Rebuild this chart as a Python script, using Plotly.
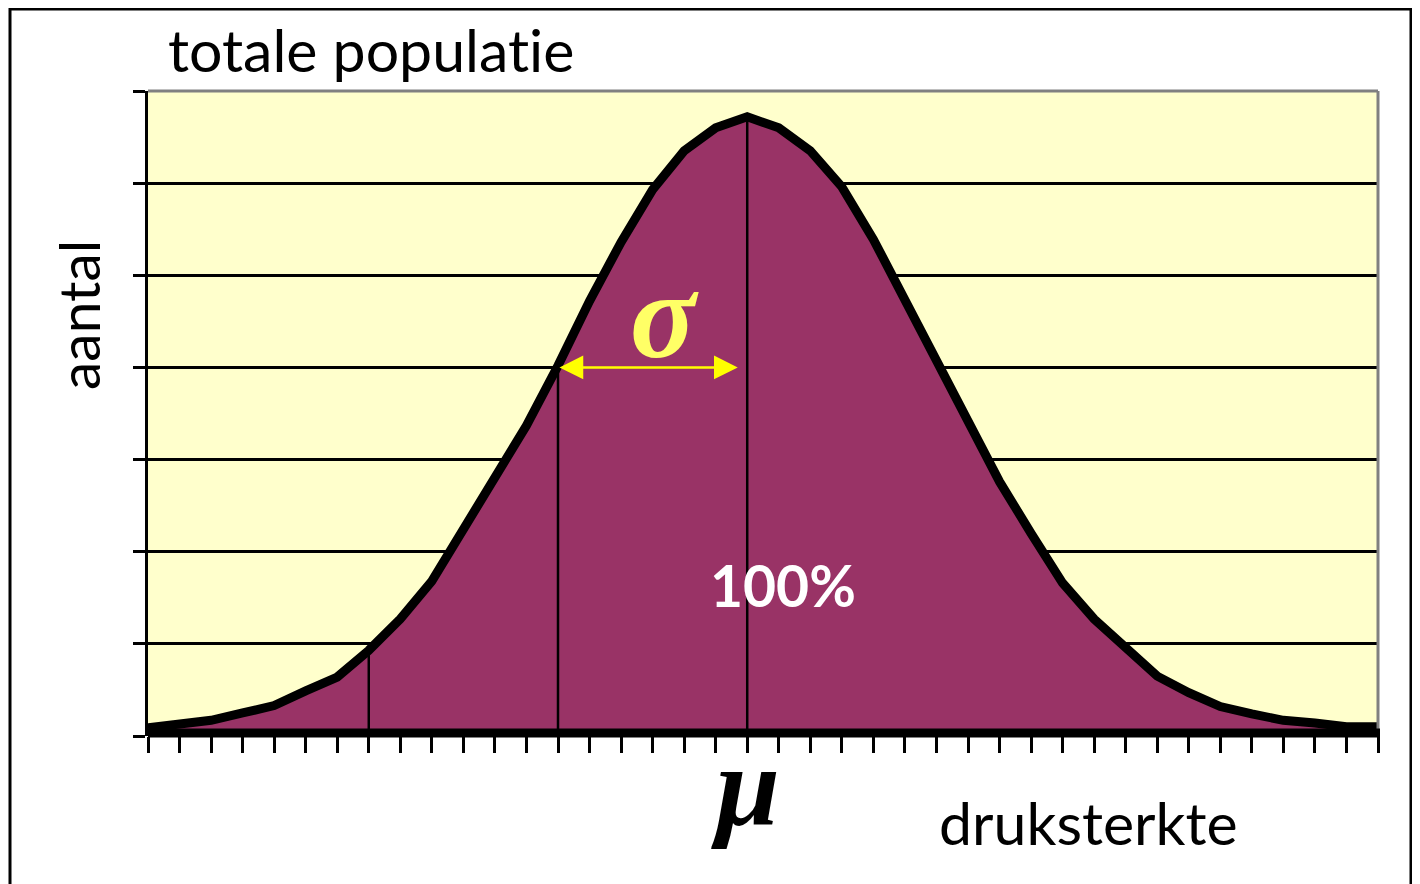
import plotly.graph_objects as go

# ---- data ----
categories = list(range(40))
aantal = [0.09, 0.13, 0.17, 0.25, 0.33, 0.49, 0.64, 0.93, 1.27, 1.68,
          2.24, 2.79, 3.37, 4.02, 4.72, 5.36, 5.93, 6.35, 6.60, 6.72,
          6.60, 6.35, 5.96, 5.39, 4.74, 4.08, 3.42, 2.76, 2.20, 1.66,
          1.27, 0.96, 0.65, 0.47, 0.32, 0.24, 0.17, 0.14, 0.10, 0.10]
drop_categories = [7, 13, 19]   # mu - 2 sigma, mu - sigma, mu
sigma_start = 13
sigma_end = 18.7
sigma_level = 4.0
y_ticks = [0, 1, 2, 3, 4, 5, 6, 7]

# page is rendered with an 8px body margin
OFF = 8
W, H = 1420 - OFF, 884 - OFF
L, R, T, B = 148, 1378, 91, 736   # plot area in page pixels


def px(x):
    return (x - L) / (R - L)


def py(y):
    return (B - y) / (B - T)


fig = go.Figure()

fig.add_trace(go.Scatter(
    x=categories, y=aantal, mode="lines", fill="tozeroy",
    fillcolor="#993366", line=dict(color="black", width=0),
    hoverinfo="skip", showlegend=False))

dx, dy = [], []
for c in drop_categories:
    dx += [c, c, None]
    dy += [0, aantal[categories.index(c)], None]
fig.add_trace(go.Scatter(x=dx, y=dy, mode="lines",
                         line=dict(color="black", width=2.5),
                         hoverinfo="skip", showlegend=False))

fig.add_trace(go.Scatter(
    x=categories, y=aantal, mode="lines",
    line=dict(color="black", width=9, shape="linear"),
    hoverinfo="skip", showlegend=False))

font_main = "Lato, 'Open Sans', sans-serif"
font_greek = "'Liberation Serif', 'DejaVu Serif', serif"

fig.update_layout(
    width=W, height=H,
    margin=dict(l=L - OFF, r=1420 - R, t=T - OFF, b=884 - B, pad=0),
    paper_bgcolor="white", plot_bgcolor="#FFFFCC",
    showlegend=False,
    xaxis=dict(range=[0, 39], tickmode="linear", tick0=0, dtick=1,
               ticks="outside", ticklen=16, tickwidth=2.5, tickcolor="black",
               showticklabels=False, showgrid=False, zeroline=False,
               showline=False, fixedrange=True),
    yaxis=dict(range=[0, 7], tickmode="array", tickvals=y_ticks,
               ticks="outside", ticklen=12, tickwidth=2.5, tickcolor="black",
               showticklabels=False, showgrid=True, gridcolor="black",
               gridwidth=2.5, zeroline=False,
               showline=True, linecolor="black", linewidth=2.5, fixedrange=True),
)

shapes = [
    dict(type="line", xref="paper", yref="paper", x0=0, x1=1, y0=1, y1=1,
         line=dict(color="#808080", width=3), layer="above"),
    dict(type="line", xref="paper", yref="paper", x0=1, x1=1, y0=0, y1=1,
         line=dict(color="#808080", width=3), layer="above"),
    # thick category axis line
    dict(type="line", xref="paper", yref="paper", x0=0, x1=px(1380),
         y0=py(733), y1=py(733),
         line=dict(color="black", width=9), layer="above"),
    dict(type="rect", xref="paper", yref="paper",
         x0=px(10), x1=px(1411), y0=py(905), y1=py(9),
         line=dict(color="black", width=3), fillcolor="rgba(0,0,0,0)"),
]
fig.update_layout(shapes=shapes)

ann = [
    dict(text="totale populat\u200cie", xref="paper", yref="paper",
         x=px(166), y=py(50), xanchor="left", yanchor="middle",
         showarrow=False, font=dict(family=font_main, size=59, color="black")),
    dict(text="aantal", xref="paper", yref="paper", textangle=-90,
         x=px(78), y=py(315), xanchor="center", yanchor="middle",
         showarrow=False, font=dict(family=font_main, size=57, color="black")),
    dict(text="druksterkte", xref="paper", yref="paper",
         x=px(937), y=py(822), xanchor="left", yanchor="middle",
         showarrow=False, font=dict(family=font_main, size=59, color="black")),
    dict(text="<b>100%</b>", xref="paper", yref="paper",
         x=px(783), y=py(585), xanchor="center", yanchor="middle",
         showarrow=False, font=dict(family=font_main, size=57, color="white")),
    dict(text="<b><i>σ</i></b>", xref="paper", yref="paper",
         x=px(664), y=py(315), xanchor="center", yanchor="middle",
         showarrow=False,
         font=dict(family=font_greek, size=122, color="#FFFF66")),
    dict(text="<b><i>μ</i></b>", xref="paper", yref="paper",
         x=px(745), y=py(786), xanchor="center", yanchor="middle",
         showarrow=False,
         font=dict(family=font_greek, size=115, color="black")),
    dict(text="", x=sigma_end, y=sigma_level, ax=sigma_start, ay=sigma_level,
         xref="x", yref="y", axref="x", ayref="y", showarrow=True,
         arrowside="end+start", arrowhead=2, arrowsize=1.9, arrowwidth=2.5,
         arrowcolor="#FFFF00"),
]
fig.update_layout(annotations=ann)

fig.write_html("out.html")
